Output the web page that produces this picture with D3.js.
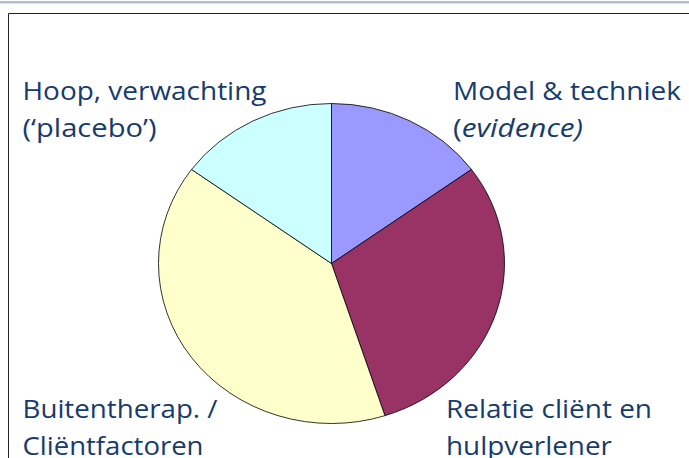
<!DOCTYPE html>
<html>
<head>
<meta charset="utf-8">
<script src="https://cdn.jsdelivr.net/npm/d3@7/dist/d3.min.js"></script>
<style>
  html, body { margin: 0; padding: 0; background: #fff; }
  svg { display: block; }
</style>
</head>
<body>
<svg id="chart" width="689" height="458"></svg>
<script>
// ---- data ----
const categories = ["Model & techniek", "Relatie cliënt en hulpverlener", "Buitentherap. / Cliëntfactoren", "Hoop, verwachting ('placebo')"];
const values = [15, 30, 40, 15];
const colors = ["#9999FF", "#993366", "#FFFFCC", "#CCFFFF"];
const labelLines = [
  [["Model & techniek"], ["(", "evidence)"]],
  [["Relatie cliënt en"], ["hulpverlener"]],
  [["Buitentherap. /"], ["Cliëntfactoren"]],
  [["Hoop, verwachting"], ["(\u2018placebo\u2019)"]]
];

// ---- layout ----
const svg = d3.select("#chart");
const W = 689, H = 458;
const cx = 331.5, cy = 263.5, ry = 160, rx = 173;
const textColor = "#163B6D";

// top decorative bar
svg.append("rect").attr("x", 0).attr("y", 1).attr("width", W).attr("height", 2.5).attr("fill", "#B3BFD6");
// frame
svg.append("path")
  .attr("d", `M8.5,${H + 2} L8.5,13.5 L${W + 2},13.5`)
  .attr("fill", "none").attr("stroke", "#222").attr("stroke-width", 1);

// pie
const pie = d3.pie().sort(null).value(d => d);
const arc = d3.arc().innerRadius(0).outerRadius(ry);
const g = svg.append("g").attr("transform", `translate(${cx},${cy}) scale(${rx / ry},1)`);
g.selectAll("path")
  .data(pie(values))
  .join("path")
  .attr("d", arc)
  .attr("fill", (d, i) => colors[i])
  .attr("stroke", "#000")
  .attr("stroke-width", 0.8)
  .attr("vector-effect", "non-scaling-stroke");

// labels (position and target widths)
const labelPos = [
  { x: 453, y: [100, 137], w: [228, 130] },
  { x: 446, y: [418, 455], w: [206, 166] },
  { x: 22.5, y: [418, 455], w: [195, 181] },
  { x: 22.5, y: [100, 137], w: [244, 134] }
];
const font = "'Open Sans', 'Noto Sans', sans-serif";
labelLines.forEach((lines, i) => {
  const p = labelPos[i];
  lines.forEach((parts, j) => {
    const t = svg.append("text")
      .attr("x", p.x).attr("y", p.y[j])
      .attr("fill", textColor)
      .attr("font-family", font)
      .attr("font-size", 26)
      .attr("textLength", p.w[j])
      .attr("lengthAdjust", "spacingAndGlyphs");
    parts.forEach((s, k) => {
      const ts = t.append("tspan").text(s);
      if (i === 0 && j === 1 && k === 1) ts.attr("font-style", "italic");
    });
  });
});
</script>
</body>
</html>
